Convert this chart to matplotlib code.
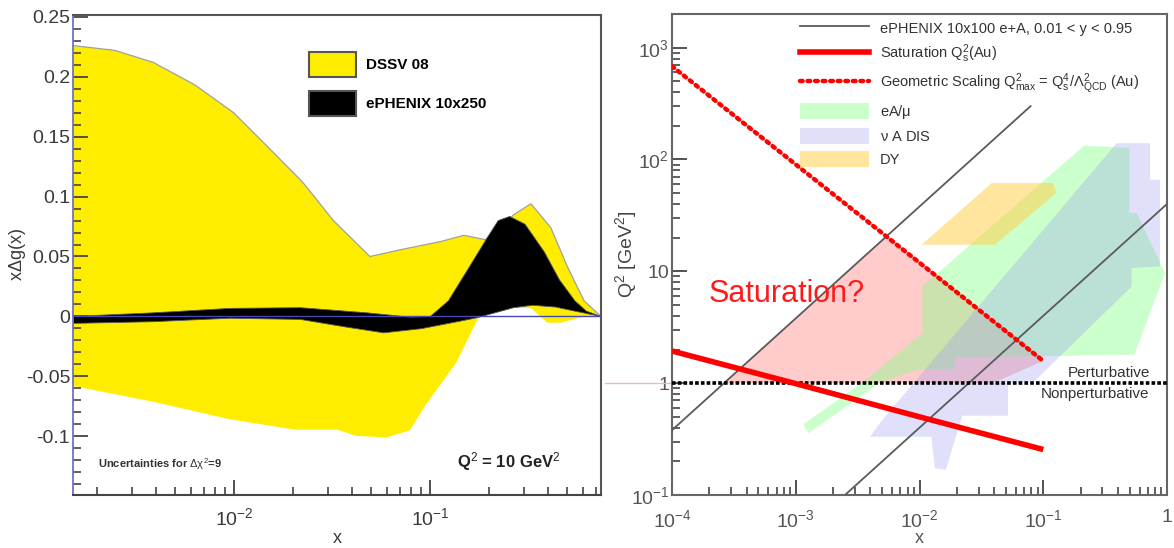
from __future__ import annotations

import matplotlib

matplotlib.use("Agg")
import matplotlib.pyplot as plt
import numpy as np
from matplotlib.lines import Line2D
from matplotlib.patches import Patch
from matplotlib.ticker import (AutoMinorLocator, FixedFormatter, FixedLocator,
                               FuncFormatter, LogLocator, MultipleLocator,
                               NullFormatter)

plt.rcParams["font.family"] = ["Liberation Sans", "DejaVu Sans"]
plt.rcParams["mathtext.fontset"] = "custom"
plt.rcParams["mathtext.rm"] = "Liberation Sans"
plt.rcParams["mathtext.it"] = "Liberation Sans"
plt.rcParams["mathtext.bf"] = "Liberation Sans:bold"

# ---- left panel: x*Delta g(x) bands at Q^2 = 10 GeV^2 ----
DSSV_UP_X = [1.5e-3, 2.45e-3, 3.85e-3, 6.31e-3, 9.9e-3, 0.0149, 0.0223, 0.032,
             0.0491, 0.072, 0.113, 0.148, 0.191, 0.23, 0.267, 0.326, 0.412,
             0.502, 0.609, 0.743]
DSSV_UP_Y = [0.226, 0.222, 0.212, 0.193, 0.170, 0.141, 0.112, 0.080, 0.050,
             0.056, 0.0625, 0.0677, 0.064, 0.075, 0.085, 0.094, 0.074, 0.041,
             0.013, 0.0]
DSSV_LO_X = [1.5e-3, 3.85e-3, 9.47e-3, 0.0204, 0.0334, 0.0418, 0.0601, 0.0787,
             0.0944, 0.135, 0.177, 0.222, 0.266, 0.326, 0.396, 0.462, 0.609,
             0.743]
DSSV_LO_Y = [-0.058, -0.0712, -0.0858, -0.0945, -0.0945, -0.0997, -0.1009,
             -0.095, -0.074, -0.039, 0.0, 0.005, 0.0073, 0.007, -0.0053,
             -0.0053, 0.0, 0.0]

EPH_UP_X = [1.5e-3, 3.85e-3, 9.47e-3, 0.0217, 0.0476, 0.079, 0.1, 0.1236,
            0.155, 0.194, 0.222, 0.254, 0.304, 0.381, 0.456, 0.547, 0.626,
            0.743]
EPH_UP_Y = [0.0, 0.003, 0.0067, 0.0073, 0.003, -0.0006, 0.0, 0.013, 0.039,
            0.065, 0.080, 0.0834, 0.077, 0.054, 0.0305, 0.013, 0.0044, 0.0]
EPH_LO_X = [1.5e-3, 3.85e-3, 9.47e-3, 0.0217, 0.0366, 0.0578, 0.0902, 0.1415,
            0.174, 0.266, 0.333, 0.436, 0.547, 0.743]
EPH_LO_Y = [-0.0058, -0.0044, -0.0015, -0.0025, -0.0087, -0.0137, -0.0102,
            -0.004, -0.001, 0.0073, 0.0093, 0.0078, 0.0044, 0.0]

# ---- right panel: x-Q^2 plane ----
EPH_HI_X = [1e-4, 0.079]          # y = 0.95
EPH_HI_Q2 = [0.38, 300.0]
EPH_LO_LINE_X = [2.4e-3, 1.0]     # y = 0.01
EPH_LO_LINE_Q2 = [0.096, 40.0]

SAT_X = [1e-4, 1e-3, 1e-2, 1e-1]
SAT_Q2 = [1.94, 0.99, 0.50, 0.255]
GEO_X = [1e-4, 1e-1]
GEO_Q2 = [682.0, 1.58]

SATREG_X = [2.63e-4, 5.4e-3, 0.1, 0.039]
SATREG_Q2 = [1.0, 20.6, 1.58, 1.0]

EA_X = [1.27e-3, 1.15e-3, 3.43e-3, 0.01054, 0.01054, 0.214, 0.496, 0.496,
        0.569, 0.964, 0.545, 0.01936, 0.01936, 9.55e-3, 4.80e-3]
EA_Q2 = [0.357, 0.428, 1.01, 2.81, 7.33, 133.0, 127.0, 33.2, 33.2, 9.66,
         1.80, 1.69, 1.32, 1.32, 1.01]

NUA_X = [0.392, 0.729, 0.729, 0.877, 0.877, 0.518, 0.518, 0.0857, 0.0519,
         0.0519, 0.0222, 0.0163, 0.0133, 0.01245, 3.99e-3, 4.80e-3]
NUA_Q2 = [140.0, 140.0, 65.9, 65.9, 11.1, 10.7, 7.33, 1.05, 1.0, 0.512,
          0.512, 0.168, 0.174, 0.332, 0.332, 0.443]

DY_X = [0.0104, 0.0383, 0.120, 0.127, 0.0407]
DY_Q2 = [17.3, 61.6, 61.6, 50.1, 17.3]

TICK_GRAY = "#3a3a3a"
GEO_DOTS = (0, (0.6, 1.1))


def style_ticks(ax):
    ax.tick_params(which="both", direction="in", top=False, right=False,
                   colors="#444444", labelcolor=TICK_GRAY, labelsize=14)
    ax.tick_params(which="major", length=11, width=1.3)
    ax.tick_params(which="minor", length=5.5, width=1.2)


def draw_left(ax):
    ax.fill(np.r_[DSSV_UP_X, DSSV_LO_X[::-1]], np.r_[DSSV_UP_Y, DSSV_LO_Y[::-1]],
            facecolor="#ffed00", edgecolor="none", zorder=1)
    ax.plot(DSSV_UP_X, DSSV_UP_Y, color="#a0a0a0", lw=0.9, zorder=1.5)
    ax.fill(np.r_[EPH_UP_X, EPH_LO_X[::-1]], np.r_[EPH_UP_Y, EPH_LO_Y[::-1]],
            facecolor="black", edgecolor="#555555", lw=0.6, zorder=2)
    ax.axhline(0, color="#4646b4", lw=1.0, zorder=3)

    ax.set_xscale("log")
    ax.set_xlim(1.5e-3, 0.743)
    ax.set_ylim(-0.149, 0.2515)
    ax.yaxis.set_major_locator(MultipleLocator(0.05))
    ax.yaxis.set_minor_locator(AutoMinorLocator(5))
    ax.yaxis.set_major_formatter(FuncFormatter(lambda v, p: f"{v:g}"))
    ax.xaxis.set_major_locator(LogLocator(base=10))
    ax.xaxis.set_minor_locator(LogLocator(base=10, subs=np.arange(2, 10)))
    ax.xaxis.set_minor_formatter(NullFormatter())
    style_ticks(ax)
    ax.tick_params(axis="y", pad=2)
    ax.tick_params(axis="x", pad=9)

    for side in ("top", "right"):
        ax.spines[side].set_color("#555555")
        ax.spines[side].set_linewidth(1.5)
    ax.spines["bottom"].set_color("#444444")
    ax.spines["bottom"].set_linewidth(1.5)
    ax.spines["left"].set_color("#7272c0")
    ax.spines["left"].set_linewidth(1.3)

    ax.set_xlabel("x", fontsize=13, color=TICK_GRAY)
    ax.xaxis.set_label_coords(0.5, -0.072)
    ax.set_ylabel(r"x$\Delta$g(x)", fontsize=13, color=TICK_GRAY)
    ax.yaxis.set_label_coords(-0.106, 0.5)
    ax.yaxis.label.set_va("center")

    handles = [Patch(facecolor="#ffed00", edgecolor="#555555", lw=1.5),
               Patch(facecolor="black", edgecolor="#555555", lw=1.5)]
    ax.legend(handles, ["DSSV 08", "ePHENIX 10x250"], loc="upper left",
              bbox_to_anchor=(0.447, 0.923), frameon=False, borderpad=0,
              borderaxespad=0, handlelength=3.1, handleheight=2.15,
              labelspacing=0.9, handletextpad=0.65,
              prop={"weight": "bold", "size": 11})

    ax.text(0.047, 0.065, r"Uncertainties for $\Delta\chi^2$=9",
            transform=ax.transAxes, fontsize=8, fontweight="bold",
            color="#333333", va="center")
    ax.text(0.728, 0.07, r"Q$^2$ = 10 GeV$^2$", transform=ax.transAxes,
            fontsize=12, fontweight="bold", color="#222222", va="center")


def draw_right(ax):
    ax.fill(SATREG_X, SATREG_Q2, facecolor=(1.0, 0.55, 0.55), alpha=0.45,
            edgecolor="none", zorder=1)
    ax.fill(EA_X, EA_Q2, facecolor=(0.55, 1.0, 0.55), alpha=0.45,
            edgecolor="none", zorder=1.2)
    ax.fill(NUA_X, NUA_Q2, facecolor=(0.6, 0.6, 0.95), alpha=0.3,
            edgecolor="none", zorder=1.4)
    ax.fill(DY_X, DY_Q2, facecolor=(1.0, 0.82, 0.3), alpha=0.55,
            edgecolor="none", zorder=1.6)

    ax.plot(EPH_HI_X, EPH_HI_Q2, color="#5a5a5a", lw=1.3, zorder=3)
    ax.plot(EPH_LO_LINE_X, EPH_LO_LINE_Q2, color="#5a5a5a", lw=1.3, zorder=3)
    ax.plot(SAT_X, SAT_Q2, color="#ff0000", lw=4, solid_capstyle="butt",
            zorder=4)
    ax.plot(GEO_X, GEO_Q2, color="#ff0000", lw=3.2, linestyle=GEO_DOTS,
            dash_capstyle="round", zorder=4)
    ax.axhline(1.0, color="black", lw=2.6, linestyle=(0, (1.0, 0.6)), zorder=3.5)
    ax.plot([-0.135, 0.0], [1.0, 1.0], color="#f0b8b8", lw=1.0,
            transform=ax.get_yaxis_transform(), clip_on=False)

    ax.set_xscale("log")
    ax.set_yscale("log")
    ax.set_xlim(1e-4, 1.0)
    ax.set_ylim(0.1, 2000)
    ax.xaxis.set_major_locator(FixedLocator([1e-4, 1e-3, 1e-2, 1e-1, 1.0]))
    ax.xaxis.set_major_formatter(FixedFormatter(
        [r"$10^{-4}$", r"$10^{-3}$", r"$10^{-2}$", r"$10^{-1}$", "1"]))
    ax.yaxis.set_major_locator(FixedLocator([0.1, 1.0, 10.0, 100.0, 1000.0]))
    ax.yaxis.set_major_formatter(FixedFormatter(
        [r"$10^{-1}$", "1", "10", r"$10^{2}$", r"$10^{3}$"]))
    for axis in (ax.xaxis, ax.yaxis):
        axis.set_minor_locator(LogLocator(base=10, subs=np.arange(2, 10)))
        axis.set_minor_formatter(NullFormatter())
    style_ticks(ax)
    ax.tick_params(labelcolor="#555555")
    ax.tick_params(axis="y", pad=2)
    ax.tick_params(axis="x", pad=10)
    for side in ax.spines:
        ax.spines[side].set_color("#666666")
        ax.spines[side].set_linewidth(1.5)

    ax.set_xlabel("x", fontsize=13, color="#555555")
    ax.xaxis.set_label_coords(0.5, -0.072)
    ax.set_ylabel(r"Q$^2$ [GeV$^2$]", fontsize=14, color="#444444")
    ax.yaxis.set_label_coords(-0.093, 0.5)
    ax.yaxis.label.set_va("center")

    ax.text(0.073, 0.418, "Saturation?", transform=ax.transAxes, fontsize=22,
            color="#ff1a1a", va="center", zorder=5)
    # labels either side of the Q^2 = 1 boundary
    ax.text(0.965, 1.07, "Perturbative", transform=ax.get_yaxis_transform(),
            fontsize=11, color="#333333", ha="right", va="bottom", zorder=5)
    ax.text(0.965, 0.93, "Nonperturbative", transform=ax.get_yaxis_transform(),
            fontsize=11, color="#333333", ha="right", va="top", zorder=5)

    handles = [
        Line2D([], [], color="#5a5a5a", lw=1.3),
        Line2D([], [], color="#ff0000", lw=4),
        Line2D([], [], color="#ff0000", lw=3.2, linestyle=GEO_DOTS,
               dash_capstyle="round"),
        Patch(facecolor=(0.55, 1.0, 0.55), alpha=0.45, edgecolor="none"),
        Patch(facecolor=(0.6, 0.6, 0.95), alpha=0.3, edgecolor="none"),
        Patch(facecolor=(1.0, 0.82, 0.3), alpha=0.55, edgecolor="none"),
    ]
    labels = [
        "ePHENIX 10x100 e+A, 0.01 < y < 0.95",
        r"Saturation Q$_s^2$(Au)",
        r"Geometric Scaling Q$^2_{max}$ = Q$_s^4$/$\Lambda^2_{QCD}$ (Au)",
        r"eA/$\mu$",
        r"$\nu$ A DIS",
        "DY",
    ]
    ax.legend(handles, labels, loc="upper left", bbox_to_anchor=(0.259, 0.988),
              frameon=False, borderpad=0, borderaxespad=0, handlelength=4.7,
              handleheight=1.3, labelspacing=0.47, handletextpad=0.75,
              prop={"size": 10.5}, labelcolor="#333333")


def main() -> None:
    fig = plt.figure(figsize=(11.74, 5.48), dpi=100)
    ax1 = fig.add_axes([73 / 1174, 53 / 548, 528 / 1174, 480 / 548])
    ax2 = fig.add_axes([672 / 1174, 53 / 548, 495 / 1174, 481 / 548])
    draw_left(ax1)
    draw_right(ax2)
    fig.savefig("out.png", dpi=100)


if __name__ == "__main__":
    main()
